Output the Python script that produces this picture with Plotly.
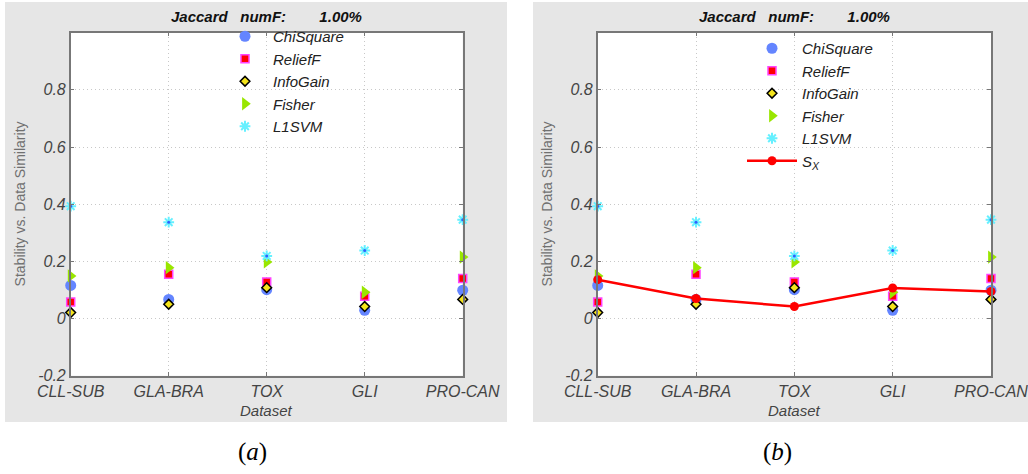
import plotly.graph_objects as go

# ---------------- data ----------------
categories = ["CLL-SUB", "GLA-BRA", "TOX", "GLI", "PRO-CAN"]
y_ticks = [-0.2, 0, 0.2, 0.4, 0.6, 0.8]
y_ticklabels = ["-0.2", "0", "0.2", "0.4", "0.6", "0.8"]

chisquare = [0.116, 0.067, 0.101, 0.029, 0.099]
relieff = [0.058, 0.155, 0.128, 0.078, 0.140]
infogain = [0.021, 0.050, 0.108, 0.042, 0.067]
fisher = [0.149, 0.178, 0.198, 0.092, 0.215]
l1svm = [0.393, 0.337, 0.219, 0.238, 0.346]
s_x = [0.136, 0.070, 0.042, 0.107, 0.095]

series_names = ["ChiSquare", "ReliefF", "InfoGain", "Fisher", "L1SVM"]
sx_name = "S<sub>X</sub>"
title_text = "Jaccard\u00a0\u00a0 numF:\u00a0\u00a0\u00a0\u00a0\u00a0\u00a0\u00a0 1.00%"
y_title = "Stability vs. Data Similarity"
x_title = "Dataset"
captions = ["(<i>a</i>)", "(<i>b</i>)"]

# ---------------- styles ----------------
FONT = "Liberation Sans, Arial, sans-serif"
styles = [
    dict(symbol="circle", size=11, color="#6485ff", line=dict(width=0)),
    dict(symbol="square", size=8, color="#ff0000", line=dict(width=1.5, color="#ff44ff")),
    dict(symbol="diamond", size=7.5, color="#f5e51c", line=dict(width=1.5, color="#000000")),
    dict(symbol="triangle-right", size=11.5, color="#99e600", line=dict(width=0)),
    dict(symbol="asterisk-open", size=9, color="#66f0ff", line=dict(width=2, color="#66f0ff")),
]
values = [chisquare, relieff, infogain, fisher, l1svm]

fig = go.Figure()

panels = [("x", "y", "legend"), ("x2", "y2", "legend2")]
for pi, (xa, ya, lg) in enumerate(panels):
    for name, vals, st in zip(series_names, values, styles):
        fig.add_trace(go.Scatter(
            x=categories, y=vals, mode="markers", name=name,
            marker=st, xaxis=xa, yaxis=ya, legend=lg, cliponaxis=False,
        ))
        if name == "L1SVM":
            fig.add_trace(go.Scatter(
                x=categories, y=vals, mode="markers", showlegend=False,
                marker=dict(symbol="circle", size=3, color="#3060ff"),
                xaxis=xa, yaxis=ya, cliponaxis=False, hoverinfo="skip",
            ))
    if pi == 1:
        fig.add_trace(go.Scatter(
            x=categories, y=s_x, mode="lines+markers", name=sx_name,
            line=dict(color="#ff0000", width=2.5),
            marker=dict(symbol="circle", size=9, color="#ff0000"),
            xaxis=xa, yaxis=ya, legend=lg, cliponaxis=False,
        ))

W, H = 1028, 474
def px(v):
    return v / W
def py(v):
    return 1 - v / H

plot_a = (70.7, 462.7)
plot_b = (597.7, 991.0)
plot_top, plot_bot = 32.7, 375.7

axis_common = dict(
    showline=True, linecolor="#777777", linewidth=1.5, mirror="ticks",
    ticks="inside", ticklen=4, tickcolor="#777777",
    showgrid=True, gridcolor="#c8c8c8", griddash="1px,3px", gridwidth=1,
    zeroline=False, fixedrange=True, automargin=False,
    tickfont=dict(family=FONT, size=16, color="#444444", style="italic"),
)

for i, (x0, x1) in enumerate([plot_a, plot_b]):
    sfx = "" if i == 0 else "2"
    fig.update_layout(**{
        "xaxis" + sfx: dict(
            axis_common, domain=[px(x0), px(x1)], type="category",
            categoryorder="array", categoryarray=categories, range=[0, len(categories) - 1],
            anchor="y" + sfx,
        ),
        "yaxis" + sfx: dict(
            axis_common, domain=[py(plot_bot), py(plot_top)], range=[-0.2, 1.0],
            tickvals=y_ticks, ticktext=y_ticklabels, anchor="x" + sfx,
        ),
    })

shapes = []
for (gx0, gx1) in [(5, 507), (533, 1028)]:
    shapes.append(dict(type="rect", xref="paper", yref="paper",
                       x0=px(gx0), x1=px(gx1), y0=py(422), y1=py(2),
                       fillcolor="#e6e6e6", line=dict(width=0), layer="below"))
for sfx in ["", "2"]:
    shapes.append(dict(type="rect", xref=("x" + sfx) + " domain", yref=("y" + sfx) + " domain",
                       x0=0, x1=1, y0=0, y1=1, fillcolor="#ffffff",
                       line=dict(width=0), layer="below"))

annotations = []
ann_common = dict(xref="paper", yref="paper", showarrow=False, xanchor="center", yanchor="middle")
for i, (x0, x1) in enumerate([plot_a, plot_b]):
    cx = (x0 + x1) / 2
    annotations.append(dict(ann_common, text="<b><i>" + title_text + "</i></b>", x=px(cx), y=py(16),
                            font=dict(family=FONT, size=15, color="#111111")))
    annotations.append(dict(ann_common, text="<i>" + x_title + "</i>", x=px(cx), y=py(410),
                            font=dict(family=FONT, size=15, color="#444444")))
    annotations.append(dict(ann_common, text=y_title, x=px(x0 - 50.5), y=py((plot_top + plot_bot) / 2),
                            textangle=-90,
                            font=dict(family=FONT, size=14, color="#707070")))
for cap, cx in zip(captions, [252, 777]):
    annotations.append(dict(ann_common, text=cap, x=px(cx), y=py(452),
                            font=dict(family="Liberation Serif, DejaVu Serif, serif", size=25,
                                      color="#000000")))

legend_common = dict(
    xanchor="left", yanchor="top", bgcolor="rgba(0,0,0,0)", borderwidth=0,
    font=dict(family=FONT, size=15, color="#222222", style="italic"),
    traceorder="normal",
)

fig.update_layout(
    width=W, height=H, autosize=False,
    margin=dict(l=0, r=0, t=0, b=0, pad=0),
    paper_bgcolor="#ffffff", plot_bgcolor="#ffffff",
    shapes=shapes, annotations=annotations,
    legend=dict(legend_common, x=px(217), y=py(20), itemwidth=46),
    legend2=dict(legend_common, x=px(742), y=py(32), itemwidth=50),
    showlegend=True,
)

fig.write_html("out.html")
